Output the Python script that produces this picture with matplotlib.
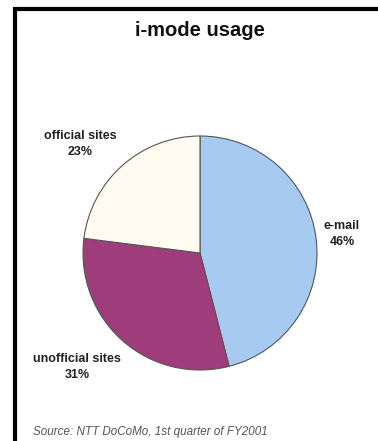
#!/usr/bin/env python3
"""i-mode usage pie chart."""

import matplotlib
matplotlib.use("Agg")
import matplotlib.pyplot as plt
from matplotlib.lines import Line2D

categories = ["e-mail", "unofficial sites", "official sites"]
shares = [46, 31, 23]
colors = ["#A6CAF0", "#9E3C7C", "#FFFBF0"]

W, H = 378, 441
plt.rcParams["font.family"] = ["Liberation Sans", "DejaVu Sans"]

fig = plt.figure(figsize=(W / 100, H / 100), dpi=100, facecolor="white")
ax = fig.add_axes([0, 0, 1, 1])

cx, cy, r = 200, H - 253, 117
wedges, texts = ax.pie(
    shares,
    colors=colors,
    startangle=90,
    counterclock=False,
    center=(cx, cy),
    radius=r,
    labels=[f"{c}\n{s}%" for c, s in zip(categories, shares)],
    labeldistance=1.2,
    wedgeprops=dict(edgecolor="#555555", linewidth=0.8),
    frame=True,
)
ax.set_xlim(0, W)
ax.set_ylim(0, H)
ax.set_aspect("equal")
ax.set_axis_off()

# label positions as placed in the original
label_xy = [(342, H - 234), (77, H - 367), (80, H - 144)]
for t, (x, y) in zip(texts, label_xy):
    t.set_position((x, y))
    t.set_ha("center")
    t.set_va("center")
    t.set_fontsize(9)
    t.set_fontweight("bold")
    t.set_color("#222222")
    t.set_linespacing(1.35)

fig.text(200 / W, 1 - 31 / H, "i-mode usage", ha="center", va="center",
         fontsize=14.5, fontweight="bold", color="#111111")
fig.text(33 / W, 1 - 432 / H, "Source: NTT DoCoMo, 1st quarter of FY2001",
         ha="left", va="center", fontsize=8.4, style="italic", color="#555555")

# frame: thick top and left rules
fig.add_artist(Line2D([13 / W, 1], [1 - 9 / H, 1 - 9 / H], transform=fig.transFigure,
                      color="black", linewidth=3, solid_capstyle="butt"))
fig.add_artist(Line2D([15 / W, 15 / W], [0, 1 - 7 / H], transform=fig.transFigure,
                      color="black", linewidth=3, solid_capstyle="butt"))

fig.savefig("out.png", dpi=100, facecolor="white")
